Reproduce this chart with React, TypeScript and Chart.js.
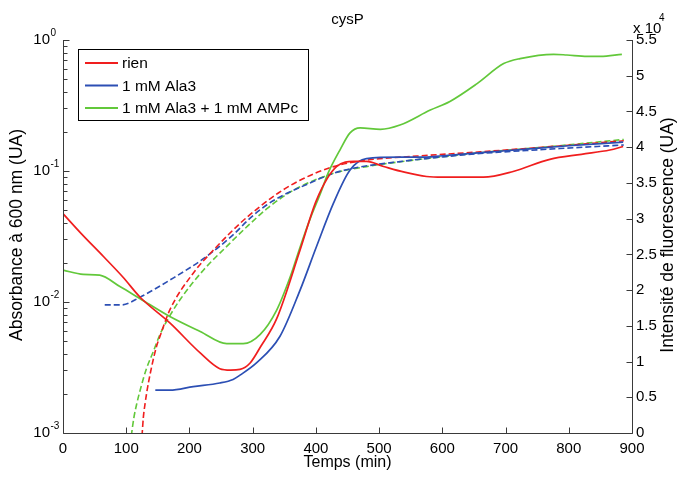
import React, { useEffect, useRef } from "react";
import { Chart, registerables } from "chart.js";
Chart.register(...registerables);

const FONT = "'Liberation Sans', Arial, Helvetica, sans-serif";
const AXIS = "#3a3a3a";

const chartTitle = "cysP";
const xTitle = "Temps (min)";
const leftTitle = "Absorbance à 600 nm (UA)";
const rightTitle = "Intensité de fluorescence (UA)";
const rightExponent = "4";
const seriesLabels = ["rien", "1 mM Ala3", "1 mM Ala3 + 1 mM AMPc"];
const seriesColors = ["#f01e1e", "#2c4fb4", "#62c83a"];

const xTicks = [0, 100, 200, 300, 400, 500, 600, 700, 800, 900];
const logDecades = [-3, -2, -1, 0];
const rightTicks = [0, 5000, 10000, 15000, 20000, 25000, 30000, 35000, 40000, 45000, 50000, 55000];

// Fluorescence (solid, right axis)
const rienFluoT = [0, 30, 64, 95, 122, 169, 217, 248, 265, 280, 296, 312, 338, 375, 401, 433, 460, 480, 507, 540, 575, 600, 640, 665, 712, 770, 820, 865, 886];
const rienFluoV = [30700, 27800, 24700, 21800, 19000, 15400, 11200, 9000, 8800, 8900, 9800, 12000, 16000, 25600, 32600, 37300, 38000, 38000, 37300, 36500, 35900, 35800, 35800, 35800, 36600, 38300, 39000, 39600, 40100];
const ala3FluoT = [146, 169, 206, 248, 269, 280, 306, 343, 375, 401, 428, 454, 480, 533, 565, 600, 700, 800, 886];
const ala3FluoV = [6000, 6000, 6500, 7000, 7500, 8100, 9800, 13500, 20000, 26100, 32200, 36800, 38400, 38600, 38600, 38800, 39500, 40200, 40700];
const ampcFluoT = [0, 32, 58, 90, 122, 169, 217, 259, 285, 312, 338, 360, 375, 391, 407, 420, 438, 454, 470, 502, 533, 581, 612, 655, 697, 723, 776, 797, 829, 850, 884];
const ampcFluoV = [22800, 22200, 22100, 20500, 18800, 16300, 14200, 12500, 12500, 13800, 17200, 22000, 26000, 30000, 33500, 36500, 39600, 42000, 42700, 42500, 43100, 45200, 46400, 48900, 51700, 52400, 53000, 52900, 52700, 52700, 53000];

// Absorbance (dashed, left log axis)
const rienAbsT = [125, 127, 130, 135, 148, 153, 169, 206, 243, 280, 312, 340, 375, 428, 480, 560, 660, 760, 887];
const rienAbsV = [0.00095, 0.0013, 0.0017, 0.0024, 0.0046, 0.0054, 0.0087, 0.0166, 0.0264, 0.0398, 0.0537, 0.0676, 0.0851, 0.108, 0.121, 0.130, 0.140, 0.152, 0.170];
const ala3AbsT = [66, 93, 122, 169, 222, 269, 296, 322, 350, 375, 428, 459, 533, 628, 660, 760, 887];
const ala3AbsV = [0.0095, 0.0095, 0.0109, 0.0147, 0.0214, 0.0325, 0.0437, 0.055, 0.066, 0.075, 0.096, 0.105, 0.118, 0.132, 0.136, 0.146, 0.158];
const ampcAbsT = [108, 112, 117, 124, 132, 143, 153, 170, 185, 222, 259, 290, 322, 350, 375, 428, 480, 560, 660, 760, 887];
const ampcAbsV = [0.00095, 0.0013, 0.0017, 0.0023, 0.0031, 0.0042, 0.0056, 0.008, 0.0104, 0.0175, 0.0266, 0.0372, 0.0513, 0.0646, 0.0759, 0.096, 0.108, 0.122, 0.138, 0.152, 0.174];

const pts = (t: number[], v: number[]) => t.map((tt, i) => ({ x: tt, y: v[i] }));

const decorPlugin = {
  id: "matlabDecor",
  afterDraw(chart: any) {
    const { ctx, chartArea: a, scales } = chart;
    const xs = scales.x, ys = scales.y, yr = scales.y1;
    const L = Math.round(a.left) + 0.5;
    const R = Math.round(a.right) + 0.5;
    const B = Math.round(a.bottom) + 0.5;
    const T = Math.round(a.top);
    ctx.save();
    ctx.strokeStyle = AXIS;
    ctx.lineWidth = 1;
    ctx.beginPath();
    ctx.moveTo(L, T); ctx.lineTo(L, B); ctx.lineTo(R, B); ctx.lineTo(R, T);
    xTicks.forEach((v) => {
      const p = Math.round(xs.getPixelForValue(v)) + 0.5;
      ctx.moveTo(p, B); ctx.lineTo(p, B - 6);
    });
    logDecades.forEach((e) => {
      const p = Math.round(ys.getPixelForValue(Math.pow(10, e))) + 0.5;
      ctx.moveTo(L, p); ctx.lineTo(L + 6, p);
      if (e < 0) {
        for (let m = 2; m <= 9; m++) {
          const q = Math.round(ys.getPixelForValue(m * Math.pow(10, e))) + 0.5;
          ctx.moveTo(L, q); ctx.lineTo(L + 4, q);
        }
      }
    });
    rightTicks.forEach((v) => {
      const p = Math.round(yr.getPixelForValue(v)) + 0.5;
      ctx.moveTo(R, p); ctx.lineTo(R - 6, p);
    });
    ctx.stroke();

    ctx.fillStyle = "#000";
    logDecades.forEach((e) => {
      const p = ys.getPixelForValue(Math.pow(10, e));
      ctx.font = `15px ${FONT}`;
      ctx.textAlign = "right";
      ctx.textBaseline = "middle";
      ctx.fillText("10", 50, p);
      ctx.font = `10px ${FONT}`;
      ctx.textAlign = "left";
      ctx.fillText(String(e), 50.5, p - 7);
    });
    ctx.font = `15px ${FONT}`;
    ctx.textAlign = "left";
    ctx.textBaseline = "middle";
    ctx.fillText("x 10", 633, 29);
    ctx.font = `10px ${FONT}`;
    ctx.fillText(rightExponent, 659, 18);

    const cx = (a.left + a.right) / 2;
    const cy = 235;
    ctx.font = `15px ${FONT}`;
    ctx.textAlign = "center";
    ctx.fillText(chartTitle, cx, 20);
    ctx.font = `16px ${FONT}`;
    ctx.fillText(xTitle, cx, 463);
    ctx.font = `17.5px ${FONT}`;
    ctx.save();
    ctx.translate(17, cy);
    ctx.rotate(-Math.PI / 2);
    ctx.fillText(leftTitle, 0, 0);
    ctx.restore();
    ctx.save();
    ctx.translate(668, cy);
    ctx.rotate(-Math.PI / 2);
    ctx.fillText(rightTitle, 0, 0);
    ctx.restore();

    const lx = 78.5, ly = 49.5, lw = 230, lh = 71;
    ctx.fillStyle = "#fff";
    ctx.fillRect(lx, ly, lw, lh);
    ctx.strokeStyle = "#000";
    ctx.lineWidth = 1;
    ctx.strokeRect(lx, ly, lw, lh);
    ctx.font = `15.5px ${FONT}`;
    ctx.textAlign = "left";
    ctx.textBaseline = "middle";
    seriesLabels.forEach((lab, i) => {
      const yy = 63 + i * 22.5;
      ctx.strokeStyle = seriesColors[i];
      ctx.lineWidth = 1.8;
      ctx.beginPath();
      ctx.moveTo(85, yy); ctx.lineTo(118, yy);
      ctx.stroke();
      ctx.fillStyle = "#000";
      ctx.fillText(lab, 122, yy + 1);
    });
    ctx.restore();
  },
};

export default function App() {
  const ref = useRef<HTMLCanvasElement | null>(null);
  useEffect(() => {
    if (!ref.current) return;
    const solid = (t: number[], v: number[], c: string, label: string) => ({
      label, data: pts(t, v), yAxisID: "y1", borderColor: c, backgroundColor: c,
      borderWidth: 1.7, pointRadius: 0, fill: false, cubicInterpolationMode: "monotone" as const,
    });
    const dashed = (t: number[], v: number[], c: string, label: string) => ({
      label, data: pts(t, v), yAxisID: "y", borderColor: c, backgroundColor: c,
      borderWidth: 1.6, borderDash: [6, 3], pointRadius: 0, fill: false, cubicInterpolationMode: "monotone" as const,
    });
    const chart = new Chart(ref.current, {
      type: "line",
      data: {
        datasets: [
          solid(rienFluoT, rienFluoV, seriesColors[0], seriesLabels[0]),
          solid(ala3FluoT, ala3FluoV, seriesColors[1], seriesLabels[1]),
          solid(ampcFluoT, ampcFluoV, seriesColors[2], seriesLabels[2]),
          dashed(rienAbsT, rienAbsV, seriesColors[0], seriesLabels[0] + " (DO)"),
          dashed(ala3AbsT, ala3AbsV, seriesColors[1], seriesLabels[1] + " (DO)"),
          dashed(ampcAbsT, ampcAbsV, seriesColors[2], seriesLabels[2] + " (DO)"),
        ],
      },
      options: {
        responsive: false,
        animation: false,
        devicePixelRatio: 1,
        layout: { padding: { top: 40, left: 0, right: 0, bottom: 0 } },
        plugins: { legend: { display: false }, tooltip: { enabled: false }, title: { display: false } },
        scales: {
          x: {
            type: "linear", min: 0, max: 900,
            grid: { display: false, drawTicks: false }, border: { display: false },
            ticks: { stepSize: 100, color: "#000", font: { family: FONT, size: 15 }, padding: 7, maxRotation: 0 },
            afterFit: (s: any) => { s.height = 44; },
          },
          y: {
            type: "logarithmic", position: "left", min: 0.001, max: 1,
            grid: { display: false, drawTicks: false }, border: { display: false },
            ticks: { display: false },
            afterFit: (s: any) => { s.width = 63; },
          },
          y1: {
            type: "linear", position: "right", min: 0, max: 55000,
            grid: { display: false, drawTicks: false }, border: { display: false },
            ticks: {
              stepSize: 5000, color: "#000", font: { family: FONT, size: 15 }, padding: 4,
              callback: (v: any) => String(+(Number(v) / 10000).toFixed(1)),
            },
            afterFit: (s: any) => { s.width = 45; },
          },
        },
      },
      plugins: [decorPlugin],
    } as any);
    return () => chart.destroy();
  }, []);
  return (
    <div style={{ position: "fixed", left: 0, top: 0, width: 677, height: 477, background: "#fff" }}>
      <canvas ref={ref} width={677} height={477} style={{ display: "block", width: 677, height: 477 }} />
    </div>
  );
}
